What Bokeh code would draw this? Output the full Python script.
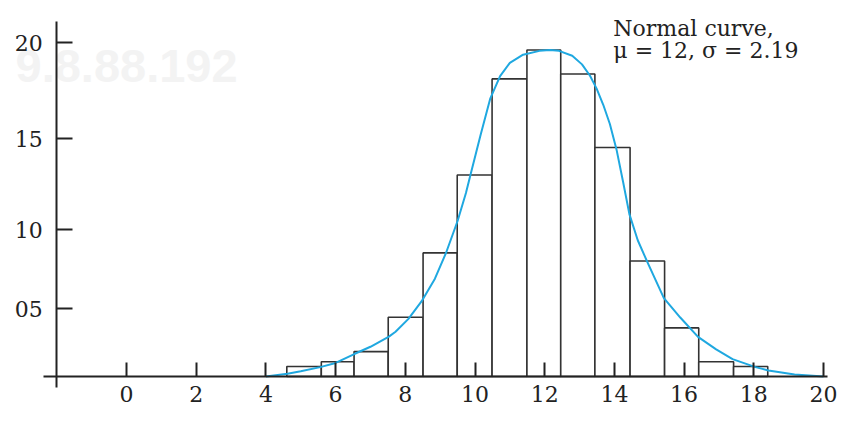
from bokeh.plotting import figure
from bokeh.models import Range1d, FixedTicker, Label
from bokeh.embed import file_html
from bokeh.resources import INLINE

# ---- data (y in the chart's tick units, 20 = top tick) ----
bin_left = [4.6, 5.59, 6.53, 7.51, 8.51, 9.49, 10.49, 11.49, 12.46, 13.44, 14.45, 15.44, 16.42, 17.42]
bin_right = [5.59, 6.53, 7.51, 8.51, 9.49, 10.49, 11.49, 12.46, 13.44, 14.45, 15.44, 16.42, 17.42, 18.4]
bar_height = [0.60, 0.88, 1.49, 3.55, 7.40, 12.07, 17.82, 19.55, 18.11, 13.71, 6.92, 2.91, 0.88, 0.60]

curve_x = [4.0, 4.62, 5.0, 5.56, 6.0, 6.52, 7.0, 7.53, 7.72, 8.09, 8.47, 8.85, 9.17, 9.5,
           9.74, 9.88, 10.02, 10.16, 10.44, 10.72, 11.0, 11.38, 11.85, 12.15, 12.41,
           12.79, 13.07, 13.3, 13.49, 13.68, 13.87, 14.06, 14.25, 14.43, 14.67, 14.95,
           15.42, 15.89, 16.4, 16.92, 17.39, 18.05, 18.42, 19.17, 20.0]
curve_y = [0.0, 0.17, 0.31, 0.56, 0.81, 1.33, 1.78, 2.39, 2.68, 3.45, 4.51, 5.86, 7.41, 9.31,
           10.99, 12.15, 13.31, 14.46, 16.66, 17.99, 18.78, 19.27, 19.50, 19.55, 19.50,
           19.21, 18.69, 18.01, 17.24, 16.27, 15.12, 13.60, 11.65, 9.72, 8.16, 6.83,
           4.69, 3.53, 2.37, 1.62, 1.04, 0.56, 0.36, 0.12, 0.0]

x_ticks = [0, 2, 4, 6, 8, 10, 12, 14, 16, 18, 20]
y_tick_pos = [4.07, 8.80, 14.25, 20.0]
y_tick_labels = ["05", "10", "15", "20"]

note_line1 = "Normal curve,"
note_line2 = "μ = 12, σ = 2.19"
watermark = "9.8.88.192"

FONT = "DejaVu Serif"
INK = "#222222"

p = figure(width=839, height=411, output_backend="svg", toolbar_location=None,
           x_range=Range1d(-3.6155, 20.459), y_range=Range1d(-2.096, 22.515),
           min_border=0)
p.min_border_left = 0
p.min_border_right = 0
p.min_border_top = 0
p.min_border_bottom = 0
p.outline_line_color = None
p.xgrid.visible = False
p.ygrid.visible = False
p.background_fill_color = "white"
p.border_fill_color = "white"

# faint watermark
p.add_layout(Label(x=-3.185, y=18.62, text=watermark, text_font="Liberation Sans",
                   text_font_style="bold", text_font_size="47px", text_color="#f3f3f3",
                   text_baseline="alphabetic", level="underlay"))

# histogram
p.quad(left=bin_left, right=bin_right, bottom=0, top=bar_height,
       fill_color="white", line_color="#333333", line_width=1.6)

# normal curve
p.line(curve_x, curve_y, line_color="#1fa8e0", line_width=2, line_join="round")

# x axis
xa = p.xaxis[0]
xa.fixed_location = 0
xa.bounds = (-2.39, 20.11)
xa.ticker = FixedTicker(ticks=x_ticks, minor_ticks=[])
xa.major_tick_in = 14
xa.major_tick_out = 0
xa.minor_tick_in = 0
xa.minor_tick_out = 0
xa.axis_line_width = 2
xa.axis_line_color = INK
xa.major_tick_line_width = 2
xa.major_tick_line_color = INK
xa.major_label_text_font = FONT
xa.major_label_text_font_size = "22px"
xa.major_label_text_color = INK
xa.major_label_standoff = 10

# y axis
ya = p.yaxis[0]
ya.fixed_location = -2
ya.bounds = (-0.64, 21.26)
ya.ticker = FixedTicker(ticks=y_tick_pos, minor_ticks=[])
ya.major_label_overrides = {v: t for v, t in zip(y_tick_pos, y_tick_labels)}
ya.major_tick_in = 16
ya.major_tick_out = 0
ya.minor_tick_in = 0
ya.minor_tick_out = 0
ya.axis_line_width = 2
ya.axis_line_color = INK
ya.major_tick_line_width = 2
ya.major_tick_line_color = INK
ya.major_label_text_font = FONT
ya.major_label_text_font_size = "22px"
ya.major_label_text_color = INK
ya.major_label_standoff = 14

# annotation
p.add_layout(Label(x=13.97, y=20.84, text=note_line1, text_font=FONT,
                   text_font_size="22px", text_color=INK, text_baseline="alphabetic"))
p.add_layout(Label(x=13.97, y=19.52, text=note_line2, text_font=FONT,
                   text_font_size="22px", text_color=INK, text_baseline="alphabetic"))

open("out.html", "w").write(file_html(p, INLINE))
